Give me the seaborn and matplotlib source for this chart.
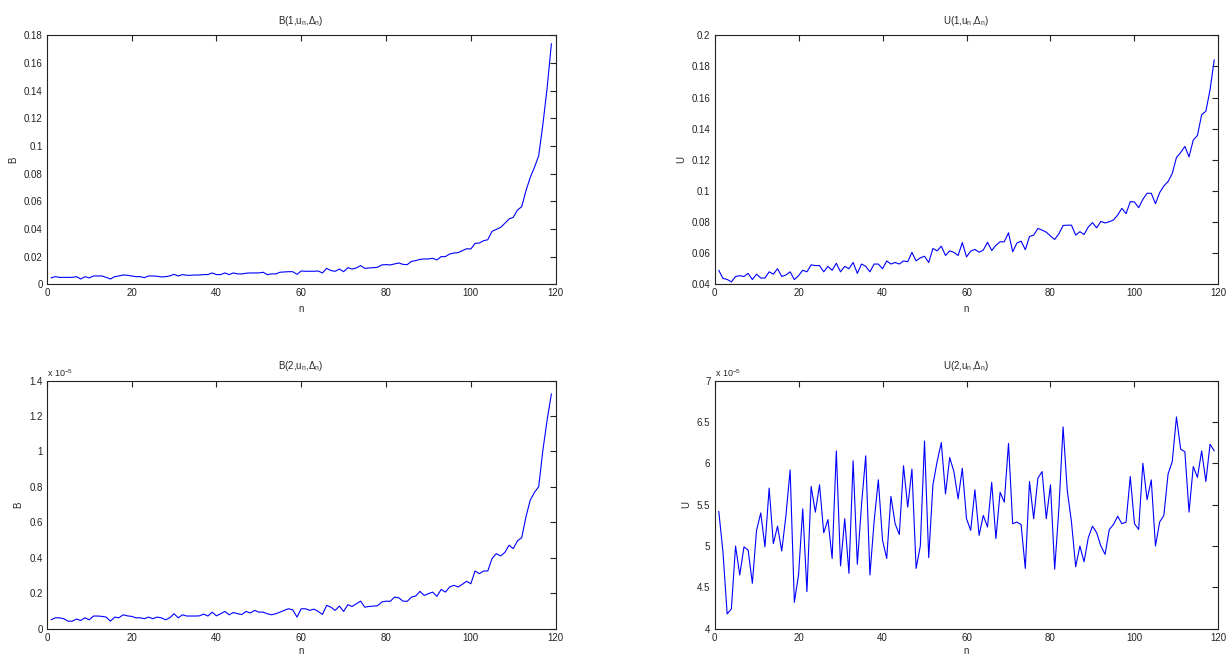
import matplotlib
matplotlib.use("Agg")
import matplotlib.pyplot as plt
import matplotlib.ticker as mticker
import numpy as np
import pandas as pd
import seaborn as sns

# iteration index
n = list(range(1, 120))

# B(1,u_n,Delta_n)
b1 = [0.0046, 0.0055, 0.005, 0.005, 0.005, 0.005, 0.0055, 0.0038, 0.0055, 0.0046,
      0.006, 0.006, 0.006, 0.005, 0.0038, 0.0055, 0.006, 0.0067, 0.0065, 0.006,
      0.0055, 0.0055, 0.0048, 0.006, 0.006, 0.0058, 0.0053, 0.0055, 0.006, 0.0072,
      0.006, 0.007, 0.0065, 0.0065, 0.0067, 0.0067, 0.007, 0.007, 0.0082, 0.007,
      0.007, 0.0082, 0.007, 0.0082, 0.0075, 0.0075, 0.008, 0.0082, 0.0082, 0.0082,
      0.0087, 0.007, 0.0075, 0.0075, 0.0087, 0.0089, 0.0091, 0.0091, 0.0072, 0.0096,
      0.0094, 0.0094, 0.0094, 0.0096, 0.0082, 0.0115, 0.0099, 0.0094, 0.011, 0.0091,
      0.012, 0.011, 0.0118, 0.0135, 0.0115, 0.0118, 0.012, 0.0123, 0.014, 0.0142,
      0.014, 0.0147, 0.0154, 0.0144, 0.0142, 0.0166, 0.0171, 0.018, 0.0183, 0.0183,
      0.0188, 0.0176, 0.02, 0.02, 0.0219, 0.0226, 0.0229, 0.0243, 0.0257, 0.0255,
      0.0296, 0.0298, 0.0315, 0.0322, 0.0383, 0.0397, 0.0411, 0.044, 0.0472, 0.0484,
      0.0537, 0.0561, 0.0676, 0.0772, 0.0845, 0.0929, 0.1157, 0.1422, 0.174]

# U(1,u_n,Delta_n)
u1 = [0.049, 0.0438, 0.0431, 0.0415, 0.045, 0.0455, 0.045, 0.047, 0.043, 0.0465,
      0.044, 0.044, 0.048, 0.0465, 0.05, 0.045, 0.046, 0.048, 0.043, 0.0455,
      0.049, 0.048, 0.0525, 0.052, 0.052, 0.048, 0.0515, 0.049, 0.0535, 0.048,
      0.0515, 0.05, 0.054, 0.047, 0.053, 0.0515, 0.048, 0.053, 0.053, 0.05,
      0.055, 0.053, 0.054, 0.053, 0.055, 0.0545, 0.0605, 0.055, 0.057, 0.058,
      0.054, 0.063, 0.0615, 0.0645, 0.0585, 0.0615, 0.0605, 0.0585, 0.0668, 0.0576,
      0.0613, 0.0624, 0.0606, 0.062, 0.067, 0.0617, 0.065, 0.0673, 0.0673, 0.0731,
      0.0609, 0.0665, 0.0677, 0.0622, 0.0707, 0.0716, 0.0759, 0.0748, 0.0735, 0.071,
      0.0688, 0.0725, 0.0778, 0.078, 0.078, 0.0716, 0.0738, 0.072, 0.0768, 0.0796,
      0.0763, 0.0804, 0.0794, 0.0802, 0.0813, 0.0845, 0.0888, 0.0854, 0.0931, 0.0929,
      0.0892, 0.0946, 0.0985, 0.0985, 0.0918, 0.0989, 0.1032, 0.106, 0.1112, 0.1215,
      0.1247, 0.1286, 0.1219, 0.1327, 0.1357, 0.149, 0.1512, 0.165, 0.1843]

# B(2,u_n,Delta_n), in units of 1e-5
b2 = [0.051, 0.062, 0.062, 0.057, 0.043, 0.043, 0.055, 0.047, 0.062, 0.051,
      0.072, 0.072, 0.07, 0.066, 0.043, 0.066, 0.062, 0.079, 0.073, 0.07,
      0.062, 0.062, 0.057, 0.066, 0.057, 0.066, 0.062, 0.051, 0.062, 0.085,
      0.062, 0.079, 0.072, 0.072, 0.072, 0.073, 0.083, 0.072, 0.094, 0.073,
      0.085, 0.098, 0.079, 0.092, 0.085, 0.081, 0.098, 0.089, 0.104, 0.094,
      0.094, 0.085, 0.079, 0.085, 0.094, 0.104, 0.113, 0.107, 0.066, 0.113,
      0.113, 0.104, 0.111, 0.098, 0.081, 0.132, 0.122, 0.104, 0.128, 0.098,
      0.136, 0.126, 0.141, 0.156, 0.122, 0.126, 0.128, 0.13, 0.151, 0.156,
      0.155, 0.179, 0.175, 0.156, 0.155, 0.179, 0.185, 0.211, 0.188, 0.198,
      0.207, 0.183, 0.222, 0.207, 0.236, 0.245, 0.236, 0.251, 0.268, 0.254,
      0.326, 0.311, 0.326, 0.326, 0.396, 0.424, 0.411, 0.43, 0.471, 0.452,
      0.496, 0.514, 0.631, 0.725, 0.769, 0.801, 1.008, 1.178, 1.325]

# U(2,u_n,Delta_n), in units of 1e-5
u2 = [5.42, 4.93, 4.18, 4.24, 5.00, 4.65, 4.99, 4.95, 4.55, 5.19,
      5.40, 4.99, 5.70, 5.03, 5.24, 4.94, 5.37, 5.92, 4.32, 4.65,
      5.45, 4.45, 5.72, 5.41, 5.74, 5.16, 5.32, 4.85, 6.15, 4.76,
      5.33, 4.67, 6.03, 4.78, 5.50, 6.09, 4.65, 5.30, 5.80, 5.07,
      4.85, 5.60, 5.27, 5.14, 5.97, 5.47, 5.93, 4.73, 5.00, 6.27,
      4.86, 5.74, 6.02, 6.25, 5.63, 6.07, 5.90, 5.57, 5.94, 5.33,
      5.19, 5.68, 5.13, 5.37, 5.23, 5.77, 5.09, 5.65, 5.53, 6.24,
      5.27, 5.29, 5.26, 4.73, 5.78, 5.33, 5.82, 5.90, 5.33, 5.74,
      4.72, 5.45, 6.44, 5.67, 5.29, 4.75, 5.00, 4.81, 5.10, 5.24,
      5.16, 5.00, 4.90, 5.20, 5.26, 5.36, 5.27, 5.29, 5.84, 5.27,
      5.20, 6.00, 5.56, 5.80, 5.00, 5.29, 5.37, 5.87, 6.02, 6.56,
      6.17, 6.14, 5.41, 5.96, 5.83, 6.15, 5.78, 6.23, 6.15]

sns.set_style("white")
plt.rcParams['font.family'] = ['Liberation Sans', 'DejaVu Sans']
plt.rcParams['mathtext.fontset'] = 'custom'
plt.rcParams['mathtext.rm'] = 'Liberation Sans'
plt.rcParams['mathtext.it'] = 'Liberation Sans'

df = pd.DataFrame({'n': n, 'b1': b1, 'u1': u1,
                   'b2': np.array(b2) * 1e-5, 'u2': np.array(u2) * 1e-5})

fig = plt.figure(figsize=(12.32, 6.55), dpi=100)
boxes = [[0.038, 0.566, 0.413, 0.380], [0.580, 0.566, 0.409, 0.380],
         [0.038, 0.040, 0.413, 0.379], [0.580, 0.040, 0.409, 0.379]]

panels = [
    ('b1', r'B(1,u$_n$,$\Delta_n$)', 'B', (0, 0.18), 0.02, None),
    ('u1', r'U(1,u$_n$,$\Delta_n$)', 'U', (0.04, 0.2), 0.02, None),
    ('b2', r'B(2,u$_n$,$\Delta_n$)', 'B', (0, 1.4e-5), 0.2e-5, 1e-5),
    ('u2', r'U(2,u$_n$,$\Delta_n$)', 'U', (4e-5, 7e-5), 0.5e-5, 1e-5),
]

for box, (col, title, ylab, ylim, ystep, scale) in zip(boxes, panels):
    ax = fig.add_axes(box)
    sns.lineplot(data=df, x='n', y=col, ax=ax, color='#0000ff', linewidth=0.8)
    ax.set_xlim(0, 120)
    ax.set_ylim(*ylim)
    ax.xaxis.set_major_locator(mticker.MultipleLocator(20))
    ax.yaxis.set_major_locator(mticker.MultipleLocator(ystep))
    if scale:
        ax.yaxis.set_major_formatter(mticker.FuncFormatter(lambda v, p, s=scale: '%g' % round(v / s, 6)))
        ax.text(0, 1.005, r'x 10$^{-5}$', transform=ax.transAxes, fontsize=6.5,
                ha='left', va='bottom')
    else:
        ax.yaxis.set_major_formatter(mticker.FuncFormatter(lambda v, p: '%g' % round(v, 6)))
    ax.tick_params(direction='in', top=True, right=True, length=4, width=0.8,
                   labelsize=7, pad=3, colors='#222222')
    for s in ax.spines.values():
        s.set_linewidth(0.8)
        s.set_color('#222222')
    ax.set_title(title, fontsize=7, pad=8)
    ax.set_xlabel('n', fontsize=7, labelpad=2 if scale else 4)
    ax.set_ylabel(ylab, fontsize=7, labelpad=4)

fig.savefig('out.png', dpi=100)
